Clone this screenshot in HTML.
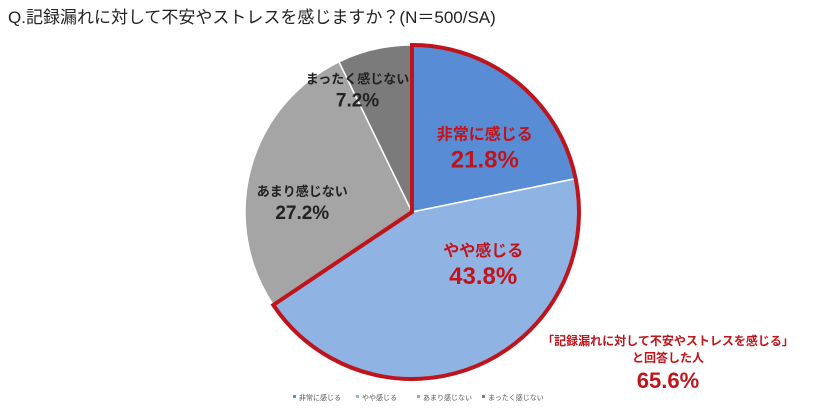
<!DOCTYPE html>
<html><head><meta charset="utf-8"><style>
body{margin:0;background:#fff;width:827px;height:410px;overflow:hidden}
svg{display:block;font-family:"Liberation Sans","Noto Sans CJK JP",sans-serif}
</style></head><body>
<svg width="827" height="410">
<text x="8" y="23" font-size="17" fill="#222">Q.記録漏れに対して不安やストレスを感じますか？(N＝500/SA)</text>
<g id="slices"></g>
<g id="labels"></g>
<text x="668" y="345" font-size="12" font-weight="bold" fill="#c0141c" text-anchor="middle">「記録漏れに対して不安やストレスを感じる」</text>
<text x="668" y="362" font-size="12" font-weight="bold" fill="#c0141c" text-anchor="middle">と回答した人</text>
<text x="668" y="388" font-size="22" font-weight="bold" fill="#c0141c" text-anchor="middle">65.6%</text>
<g id="legend"></g>
</svg>
<script>
const categories=["非常に感じる","やや感じる","あまり感じない","まったく感じない"];
const values=[21.8,43.8,27.2,7.2];
const colors=["#588dd5","#8fb4e3","#a5a5a5","#7b7b7b"];
const highlightCount=2;
const NS="http://www.w3.org/2000/svg";
const cx=412,cy=212,r=167;
const total=values.reduce((a,b)=>a+b,0);
function pt(f,rr){const a=f*2*Math.PI-Math.PI/2;return [cx+rr*Math.cos(a),cy+rr*Math.sin(a)];}
function arcPath(f0,f1){const p0=pt(f0,r),p1=pt(f1,r);const large=(f1-f0)>0.5?1:0;
return `M${cx},${cy}L${p0[0]},${p0[1]}A${r},${r} 0 ${large} 1 ${p1[0]},${p1[1]}Z`;}
const gS=document.getElementById('slices'),gL=document.getElementById('labels'),gG=document.getElementById('legend');
let acc=0;const labelR=[0.5,0.5,0.6,0.68];
const labelDx=[20,39,-13,-29],labelDy=[0,-25,18,-10];
values.forEach((v,i)=>{
 const f0=acc/total,f1=(acc+v)/total;acc+=v;
 const p=document.createElementNS(NS,'path');
 p.setAttribute('d',arcPath(f0,f1));p.setAttribute('fill',colors[i]);p.setAttribute('stroke','#fff');p.setAttribute('stroke-width','1.5');
 
 
 gS.appendChild(p);
 const red=i<highlightCount;
 let [lx,ly]=pt((f0+f1)/2,r*labelR[i]);lx+=labelDx[i];ly+=labelDy[i];
 const t1=document.createElementNS(NS,'text');
 t1.setAttribute('x',lx);t1.setAttribute('y',ly-8);t1.setAttribute('text-anchor','middle');
 t1.setAttribute('font-size',red?16:13);t1.setAttribute('font-weight','bold');t1.setAttribute('fill',red?'#c0141c':'#222');
 t1.textContent=categories[i];
 
 
 gL.appendChild(t1);
 const t2=document.createElementNS(NS,'text');
 t2.setAttribute('x',lx);t2.setAttribute('y',ly+(red?20:15));t2.setAttribute('text-anchor','middle');
 t2.setAttribute('font-size',red?24:19);t2.setAttribute('font-weight','bold');t2.setAttribute('fill',red?'#c0141c':'#222');
 t2.textContent=v.toFixed(1)+'%';
 
 
 gL.appendChild(t2);
});
let hv=0;for(let i=0;i<highlightCount;i++)hv+=values[i];
const hl=document.createElementNS(NS,'path');
hl.setAttribute('d',arcPath(0,hv/total));hl.setAttribute('fill','none');hl.setAttribute('stroke','#c0141c');hl.setAttribute('stroke-width','4');hl.setAttribute('stroke-linejoin','miter');


gS.appendChild(hl);
const lx0=[293,356,417,482];
categories.forEach((c,i)=>{
 const s=document.createElementNS(NS,'rect');
 s.setAttribute('x',lx0[i]);s.setAttribute('y',395);s.setAttribute('width',3);s.setAttribute('height',3);s.setAttribute('fill',colors[i]);
 
 
 gG.appendChild(s);
 const t=document.createElementNS(NS,'text');
 t.setAttribute('x',lx0[i]+6);t.setAttribute('y',400);t.setAttribute('font-size',7);t.setAttribute('fill','#555');t.textContent=c;
 
 
 gG.appendChild(t);
});
</script>
</body></html>
